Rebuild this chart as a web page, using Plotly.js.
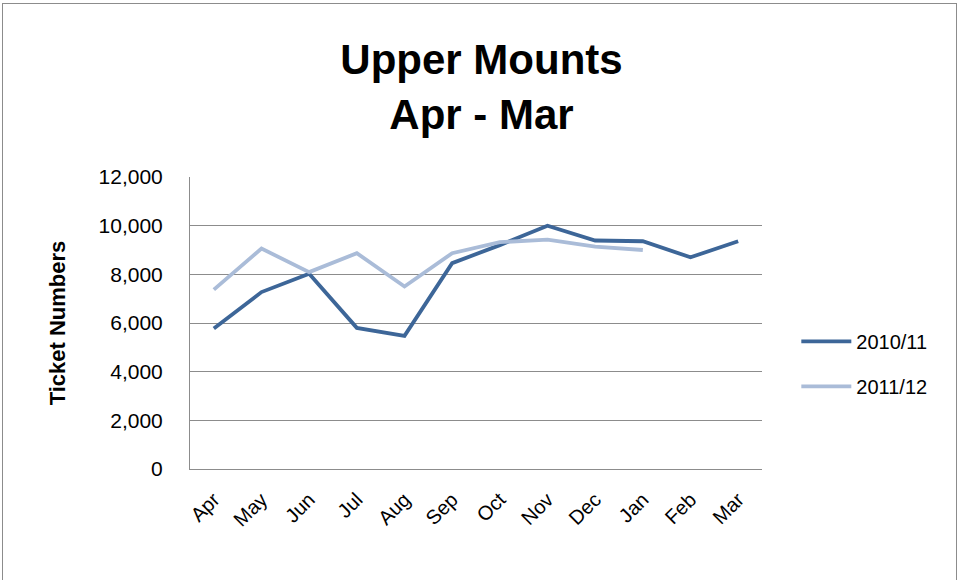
<!DOCTYPE html>
<html><head><meta charset="utf-8">
<script src="https://cdn.plot.ly/plotly-3.0.1.min.js"></script>
<style>
body{margin:0;padding:0;background:#fff;}
#frame{position:absolute;left:2px;top:3px;width:955px;height:580px;border:1px solid #8c8c8c;border-bottom:none;box-sizing:border-box;pointer-events:none;}
#chart{position:absolute;left:0;top:0;width:963px;height:580px;}
</style></head>
<body>
<div id="chart"></div>
<div id="frame"></div>
<script>
const months = ["Apr","May","Jun","Jul","Aug","Sep","Oct","Nov","Dec","Jan","Feb","Mar"];
const series2010 = [5770, 7270, 8020, 5800, 5470, 8460, 9200, 10000, 9390, 9360, 8700, 9360];
const series2011 = [7370, 9060, 8090, 8870, 7500, 8870, 9320, 9430, 9140, 9000];
const yTicks = [0, 2000, 4000, 6000, 8000, 10000, 12000];
const yTickText = ["0","2,000","4,000","6,000","8,000","10,000","12,000"];

const font = "Liberation Sans, Arial, sans-serif";
const traces = [
  {x: months, y: series2010, name: "2010/11", type: "scatter", mode: "lines", legendgroup: "a",
   line: {color: "#3d6698", width: 3.8}},
  {x: months.slice(0, series2011.length), y: series2011, name: "2011/12", type: "scatter", mode: "lines", legendgroup: "b",
   line: {color: "#aabcd8", width: 3.8}}
];
const layout = {
  width: 963, height: 580,
  margin: {l: 190, r: 201, t: 177, b: 111},
  paper_bgcolor: "#fff", plot_bgcolor: "#fff",
  title: {text: "<b>Upper Mounts<br>Apr - Mar</b>", x: 0.5, xanchor: "center", y: 0.872, yanchor: "middle",
          font: {family: font, size: 42, color: "#000"}},
  xaxis: {type: "category", tickangle: -45, showgrid: false, showline: true, linecolor: "#8c8c8c", linewidth: 1,
          ticks: "", tickfont: {family: font, size: 20, color: "#000"}, range: [-0.5, 11.5], fixedrange: true,
          ticklabelstandoff: 10},
  yaxis: {range: [0, 12000], tickvals: yTicks, ticktext: yTickText, showgrid: true, gridcolor: "#8c8c8c", gridwidth: 1,
          showline: true, linecolor: "#8c8c8c", linewidth: 1, ticks: "", zeroline: false,
          tickfont: {family: font, size: 21, color: "#000"}, ticklabelstandoff: 22,
          title: {text: "<b>Ticket Numbers</b>", font: {family: font, size: 22, color: "#000"}, standoff: 26}},
  legend: {x: 1.06, y: 0.36, xanchor: "left", yanchor: "middle", font: {family: font, size: 20, color: "#000"},
           tracegroupgap: 16, itemwidth: 50, bgcolor: "rgba(0,0,0,0)"},
  showlegend: true
};
Plotly.newPlot("chart", traces, layout, {displayModeBar: false, staticPlot: true});
</script>
</body></html>
